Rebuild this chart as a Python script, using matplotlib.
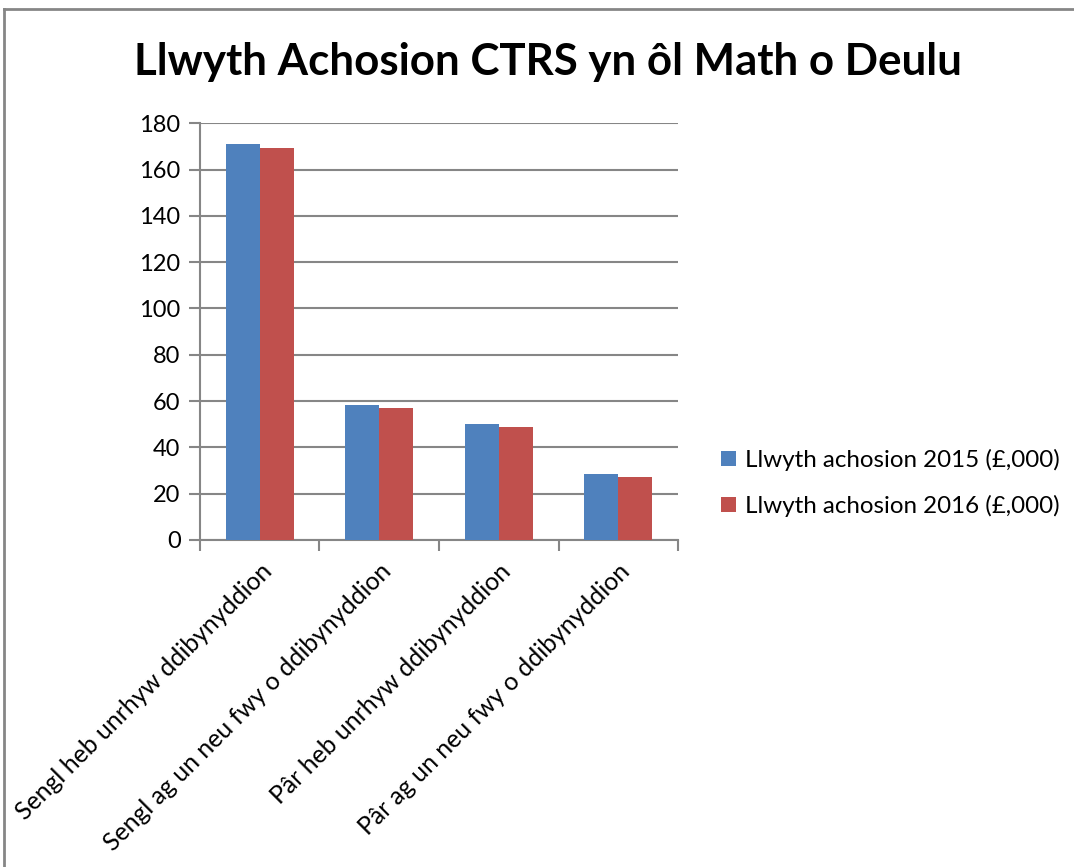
import matplotlib
matplotlib.use("Agg")
import matplotlib.pyplot as plt
import numpy as np
from matplotlib.lines import Line2D

categories = ["Sengl heb unrhyw ddibynyddion",
              "Sengl ag un neu fwy o ddibynyddion",
              "Pâr heb unrhyw ddibynyddion",
              "Pâr ag un neu fwy o ddibynyddion"]
vals_2015 = [171.2, 58.4, 50.0, 28.4]
vals_2016 = [169.3, 56.8, 48.6, 27.0]
series_names = ["Llwyth achosion 2015 (£,000)", "Llwyth achosion 2016 (£,000)"]
yticks = [0, 20, 40, 60, 80, 100, 120, 140, 160, 180]

plt.rcParams['font.family'] = ['Lato', 'DejaVu Sans']

fig = plt.figure(figsize=(10.74, 8.67), dpi=100)
ax = fig.add_axes([0.1862, 0.3772, 0.4451, 0.4806])

grey = '#868686'
x = np.arange(len(categories))
w = 0.285
ax.bar(x - w / 2, vals_2015, w, color='#4F81BD', label=series_names[0], zorder=3)
ax.bar(x + w / 2, vals_2016, w, color='#C0504D', label=series_names[1], zorder=3)

ax.set_xlim(-0.5, len(categories) - 0.5)
ax.set_ylim(0, 180)
ax.set_yticks(yticks)
ax.tick_params(axis='y', labelsize=17, length=8, width=1.5, color=grey, pad=6)
ax.yaxis.grid(True, color=grey, linewidth=1.5, zorder=0)

ax.set_xticks(x)
ax.set_xticklabels(categories, rotation=45, ha='right', va='top',
                   rotation_mode='anchor', fontsize=17.8)
ax.tick_params(axis='x', length=0, pad=14)
ax.set_xticks(np.arange(-0.5, len(categories)), minor=True)
ax.tick_params(axis='x', which='minor', length=8, width=1.5, color=grey)

for s in ['top', 'right']:
    ax.spines[s].set_visible(False)
for s in ['left', 'bottom']:
    ax.spines[s].set_color(grey)
    ax.spines[s].set_linewidth(1.5)

fig.text(0.51, 0.928, "Llwyth Achosion CTRS yn ôl Math o Deulu",
         ha='center', va='center', fontsize=31.6, fontweight='bold')

ax.legend(loc='center left', bbox_to_anchor=(1.09, 0.137), frameon=False,
          fontsize=17.4, handlelength=0.6, handleheight=0.6,
          handletextpad=0.4, labelspacing=0.98, borderpad=0, borderaxespad=0)

# outer chart frame (left and top edges visible)
fig.add_artist(Line2D([0.004, 0.004], [0, 0.99], transform=fig.transFigure,
                      color=grey, linewidth=2))
fig.add_artist(Line2D([0.004, 1.0], [0.99, 0.99], transform=fig.transFigure,
                      color=grey, linewidth=2))

fig.savefig("out.png", dpi=100)
